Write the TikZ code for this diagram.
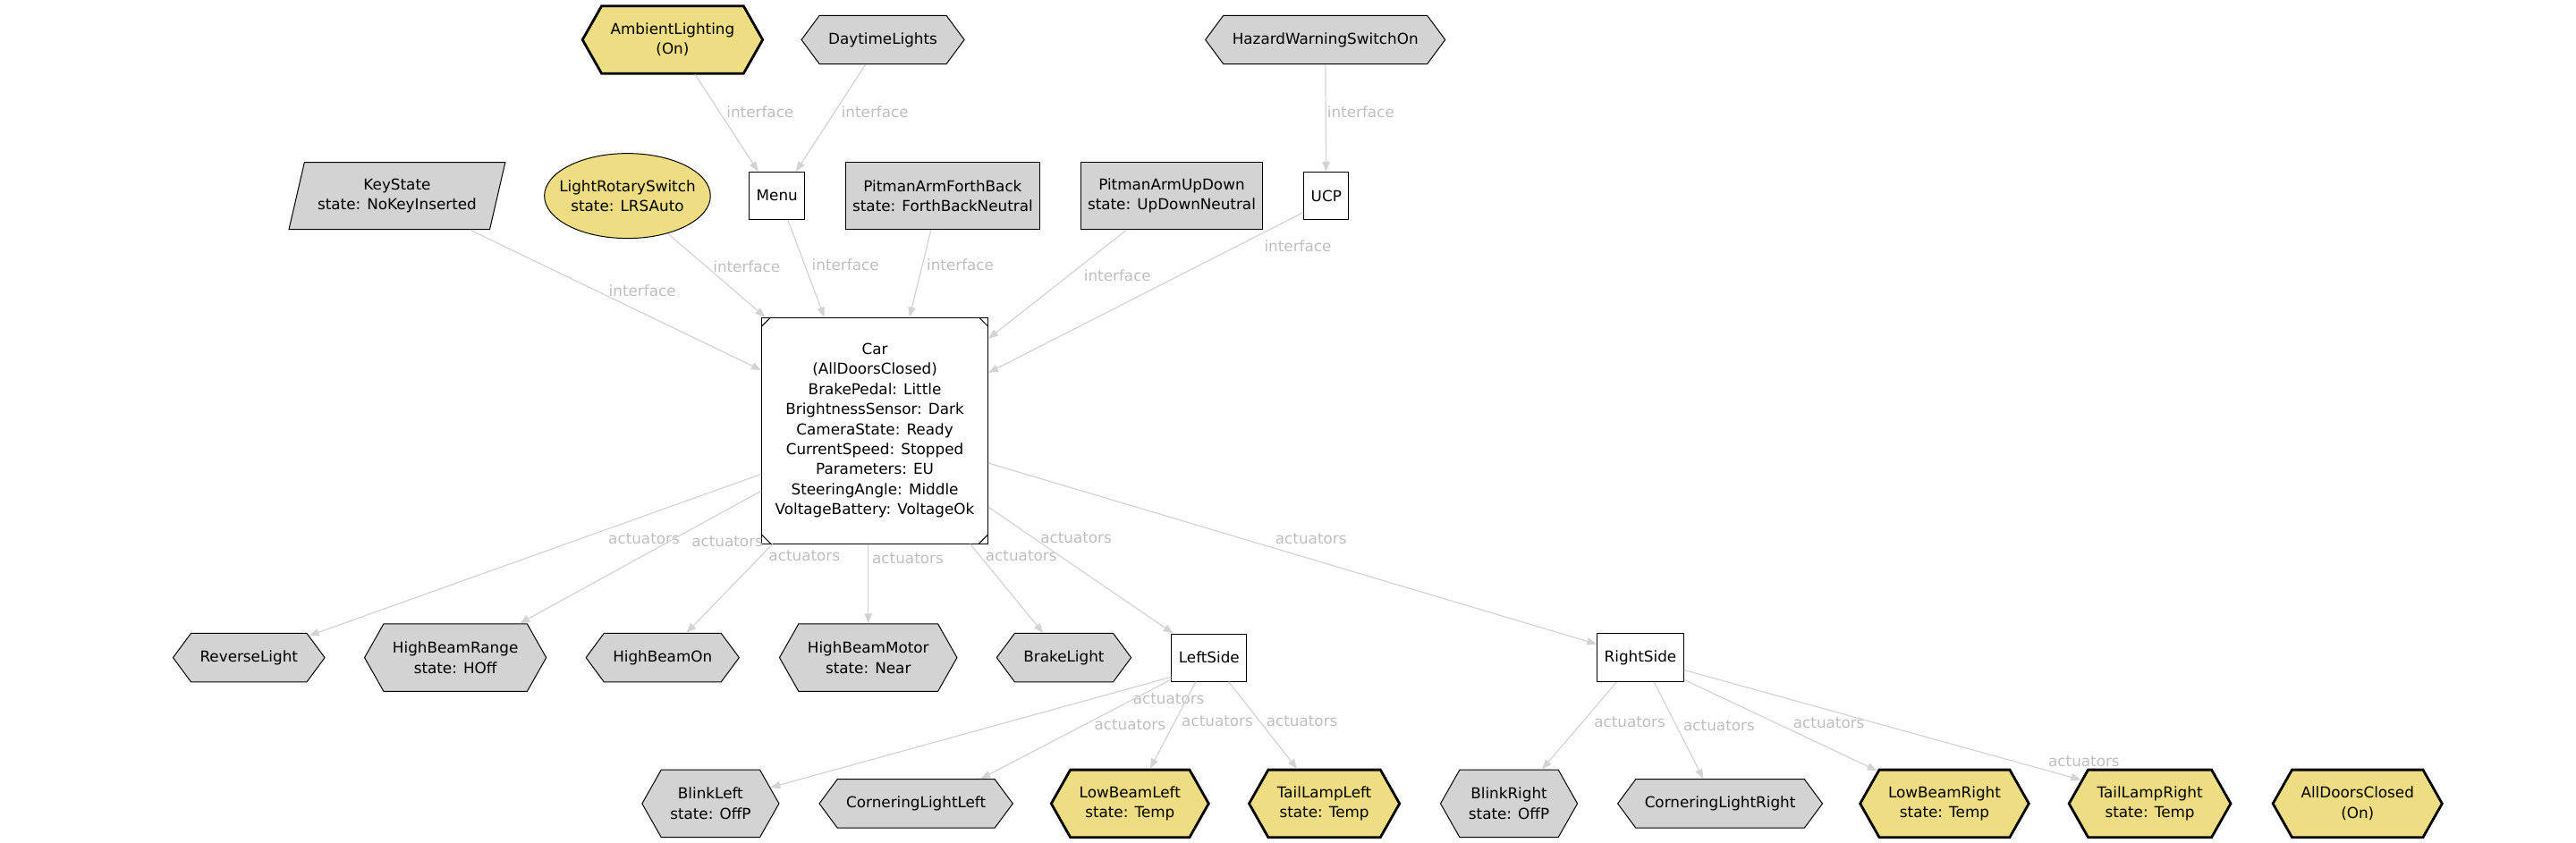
\documentclass[tikz,border=0pt]{standalone}
\usepackage{fontspec}
\setmainfont{DejaVu Sans}
\usepackage{tikz}
\usetikzlibrary{arrows.meta,shapes.geometric,shapes.symbols}
\definecolor{myGold}{HTML}{EEDD82}
\definecolor{myGray}{HTML}{D3D3D3}
\definecolor{myEdge}{HTML}{D3D3D3}
\definecolor{myText}{HTML}{BEBEBE}
\tikzset{
myHex/.style={
	signal, signal to=east and west, signal from=nowhere,
	draw, fill=myGray, line width=0.5pt,
	inner xsep=5pt, inner ysep=0pt, minimum height=27.2pt,
	signal pointer angle=107, align=center
}
, myHexTwo/.style={
	myHex, minimum height=37.8pt, signal pointer angle=121
}
, myHexOn/.style={
	myHexTwo, fill=myGold, line width=1.4pt
}
, myBox/.style={
	rectangle, draw, fill=white, line width=0.5pt,
	inner xsep=4pt, inner ysep=0pt, minimum height=26.6pt
}
, myStateBox/.style={
	myBox, fill=myGray, minimum height=37.5pt, align=center
}
, myKey/.style={
	trapezium, trapezium left angle=72.8, trapezium right angle=107.2,
	trapezium stretches=true, draw, fill=myGray, line width=0.5pt,
	minimum width=121pt, minimum height=37.5pt, align=center
}
, mySwitch/.style={
	ellipse, draw, fill=myGold, line width=0.5pt,
	inner xsep=-5.5pt, inner ysep=0pt,
	minimum width=92.8pt, minimum height=47.5pt, align=center
}
, myCar/.style={
	rectangle, draw, fill=white, line width=0.5pt,
	minimum size=126.5pt, inner sep=0pt, align=center,
	path picture = {
		\draw[black, line width=0.5pt]
		([yshift=-5pt]path picture bounding box.north west) -- ([xshift=5pt]path picture bounding box.north west)
		([yshift=-5pt]path picture bounding box.north east) -- ([xshift=-5pt]path picture bounding box.north east)
		([yshift=5pt]path picture bounding box.south west) -- ([xshift=5pt]path picture bounding box.south west)
		([yshift=5pt]path picture bounding box.south east) -- ([xshift=-5pt]path picture bounding box.south east);
	}
}
% link
, myLink/.style={-{Triangle[length=5.5pt,width=4.2pt]}, draw=myEdge, line width=0.6pt}
, myLabel/.style={text=myText, inner sep=0pt}
}

\begin{document}
\begin{tikzpicture}[x=0.91837pt, y=-0.91837pt, font=\fontsize{8.4}{11.2}\selectfont]
	\useasboundingbox (0,0) rectangle (1568,513.4);
	% inputs
	\node[myHexOn] (AmbientLighting) at (409.4,24.2) {AmbientLighting\\(On)};
	\node[myHex] (DaytimeLights) at (537.4,24.2) {DaytimeLights};
	\node[myHex] (HazardWarningSwitchOn) at (806.7,24.2) {HazardWarningSwitchOn};
	\node[myKey] (KeyState) at (241.7,119.3) {KeyState\\state: NoKeyInserted};
	\node[mySwitch] (LightRotarySwitch) at (381.9,119.3) {LightRotarySwitch\\state: LRSAuto};
	\node[myBox] (Menu) at (473,119.2) {Menu};
	\node[myStateBox] (PitmanArmForthBack) at (573.8,119.3) {PitmanArmForthBack\\state: ForthBackNeutral};
	\node[myStateBox] (PitmanArmUpDown) at (713.2,119.3) {PitmanArmUpDown\\state: UpDownNeutral};
	\node[myBox] (UCP) at (807.3,119.2) {UCP};
	% car
	\node[myCar] (Car) at (532.5,262.2) {Car\\(AllDoorsClosed)\\BrakePedal: Little\\BrightnessSensor: Dark\\CameraState: Ready\\CurrentSpeed: Stopped\\Parameters: EU\\SteeringAngle: Middle\\VoltageBattery: VoltageOk};
	% actuators
	\node[myHex] (ReverseLight) at (151.5,400.5) {ReverseLight};
	\node[myHexTwo] (HighBeamRange) at (277.2,400.5) {HighBeamRange\\state: HOff};
	\node[myHex] (HighBeamOn) at (403.3,400.5) {HighBeamOn};
	\node[myHexTwo] (HighBeamMotor) at (528.5,400.5) {HighBeamMotor\\state: Near};
	\node[myHex] (BrakeLight) at (647.6,400.5) {BrakeLight};
	\node[myBox] (LeftSide) at (736,400.5) {LeftSide};
	\node[myBox, minimum height=27.2pt] (RightSide) at (998.5,400.4) {RightSide};
	\node[myHexTwo] (BlinkLeft) at (432.5,489.4) {BlinkLeft\\state: OffP};
	\node[myHex] (CorneringLightLeft) at (557.6,489.4) {CorneringLightLeft};
	\node[myHexOn] (LowBeamLeft) at (687.8,489.4) {LowBeamLeft\\state: Temp};
	\node[myHexOn] (TailLampLeft) at (806.1,489.4) {TailLampLeft\\state: Temp};
	\node[myHexTwo] (BlinkRight) at (918.5,489.4) {BlinkRight\\state: OffP};
	\node[myHex] (CorneringLightRight) at (1047,489.4) {CorneringLightRight};
	\node[myHexOn] (LowBeamRight) at (1183.6,489.4) {LowBeamRight\\state: Temp};
	\node[myHexOn] (TailLampRight) at (1308.6,489.4) {TailLampRight\\state: Temp};
	\node[myHexOn] (AllDoorsClosed) at (1435,489.4) {AllDoorsClosed\\(On)};

	% interface links
	\draw[myLink] (AmbientLighting.-57) -- (Menu.128.4) node[myLabel] at (462.7,68) {interface};
	\draw[myLink] (DaytimeLights.-125.6) -- (Menu.52.5) node[myLabel] at (532.6,68) {interface};
	\draw[myLink] (HazardWarningSwitchOn) -- (UCP) node[myLabel] at (828.3,68) {interface};
	\draw[myLink] (KeyState.-25.6) -- (Car.152.9) node[myLabel] at (391,177) {interface};
	\draw[myLink] (LightRotarySwitch.-43.2) -- (Car.134) node[myLabel] at (454.5,162.4) {interface};
	\draw[myLink] (Menu.-66.7) -- (Car.114) node[myLabel] at (514.6,161.2) {interface};
	\draw[myLink] (PitmanArmForthBack.-109.7) -- (Car.73.7) node[myLabel] at (584.5,161.2) {interface};
	\draw[myLink] (PitmanArmUpDown.-143) -- (Car.39.2) node[myLabel] at (680.2,167.9) {interface};
	\draw[myLink] (UCP.-144.8) -- (Car.27.8) node[myLabel] at (790,149.7) {interface};

	% actuator links
	\draw[myLink] (Car.-159) -- (ReverseLight.20.5) node[myLabel] at (392,328) {actuators};
	\draw[myLink] (Car.-152.8) -- (HighBeamRange.28.3) node[myLabel] at (442.7,330) {actuators};
	\draw[myLink] (Car.-132.7) -- (HighBeamOn.46.3) node[myLabel] at (489.6,338.5) {actuators};
	\draw[myLink] (HighBeamMotor.north |- Car.south) -- (HighBeamMotor.north) node[myLabel] at (552.6,340.3) {actuators};
	\draw[myLink] (Car.-50.1) -- (BrakeLight.130.3) node[myLabel] at (621.6,338.5) {actuators};
	\draw[myLink] (Car.-34.8) -- (LeftSide.146.3) node[myLabel] at (655,327.6) {actuators};
	\draw[myLink] (Car.-16.8) -- (RightSide.163.5) node[myLabel] at (798,328) {actuators};

	\draw[myLink] (LeftSide.-153.5) -- (BlinkLeft.15.9) node[myLabel] at (711.4,425.6) {actuators};
	\draw[myLink] (LeftSide.-150) -- (CorneringLightLeft.21) node[myLabel] at (687.8,441.6) {actuators};
	\draw[myLink] (LeftSide.-119.4) -- (LowBeamLeft.60.9) node[myLabel] at (741,439.2) {actuators};
	\draw[myLink] (LeftSide.-51.5) -- (TailLampLeft.128) node[myLabel] at (792.5,439.2) {actuators};

	\draw[myLink] (RightSide.-134) -- (BlinkRight.46.5) node[myLabel] at (992,439.6) {actuators};
	\draw[myLink] (RightSide.-61) -- (CorneringLightRight.124) node[myLabel] at (1046.4,441.9) {actuators};
	\draw[myLink] (RightSide.-27.4) -- (LowBeamRight.154) node[myLabel] at (1113.2,440.1) {actuators};
	\draw[myLink] (RightSide.-16) -- (TailLampRight.161.6) node[myLabel] at (1268.5,463.7) {actuators};
\end{tikzpicture}
\end{document}
